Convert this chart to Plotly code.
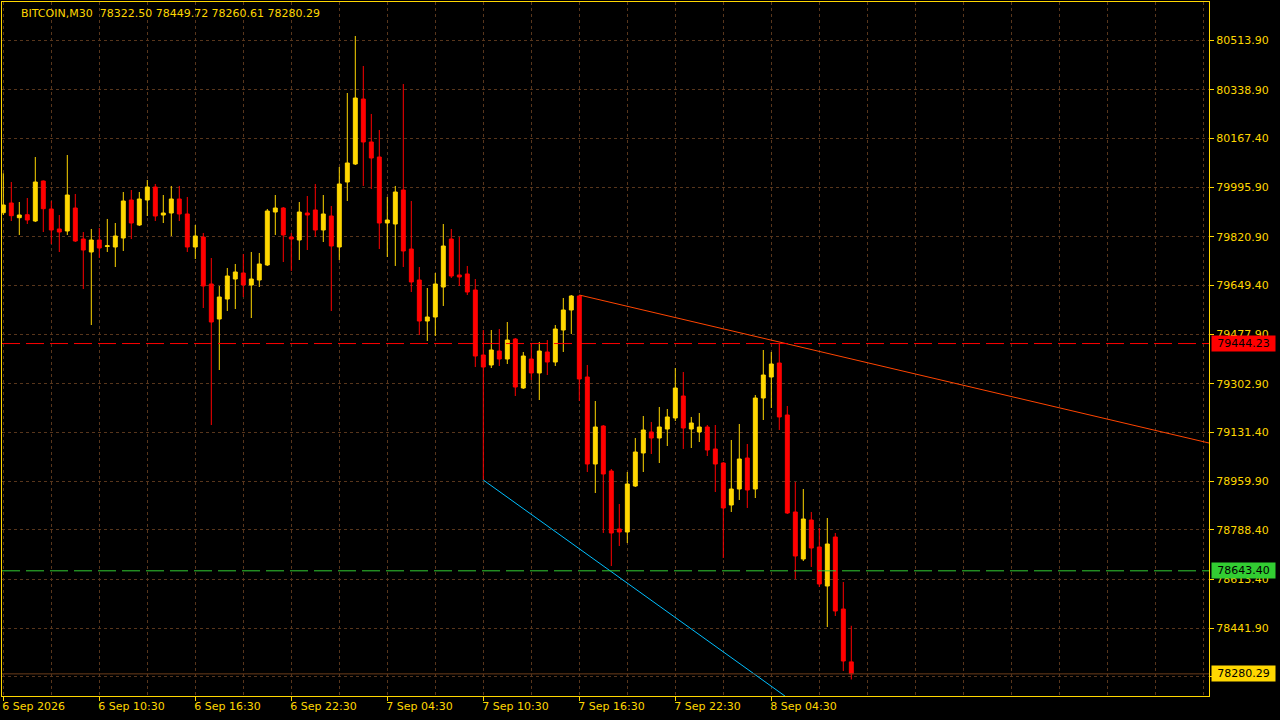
import plotly.graph_objects as go

# ---------------- data ----------------
symbol_label = "BITCOIN,M30"
last_ohlc = [78322.50, 78449.72, 78260.61, 78280.29]

bar_index = list(range(107))

opens = [79905.3, 79939.5, 79887.7, 79898.3, 79876.1, 80017.0, 79918.4, 79848.0, 79840.9, 79921.9,
         79812.6, 79766.9, 79809.1, 79786.2, 79784.5, 79816.2, 79950.1, 79862.0, 79950.1, 79995.9,
         79897.2, 79904.3, 79953.6, 79900.8, 79784.5, 79819.7, 79654.1, 79530.7, 79601.2, 79671.7,
         79692.9, 79650.6, 79668.2, 79721.1, 79907.8, 79921.9, 79819.7, 79809.1, 79904.3, 79914.9,
         79844.4, 79893.7, 79784.5, 80013.5, 80077.0, 80306.0, 80154.5, 80101.6, 79869.0, 79865.5,
         79985.3, 79777.4, 79668.2, 79523.7, 79537.8, 79643.5, 79812.6, 79685.8, 79689.4, 79633.0,
         79403.9, 79368.7, 79418.0, 79389.8, 79460.2, 79287.6, 79389.8, 79340.5, 79414.5, 79379.2,
         79492.0, 79562.5, 79611.8, 79326.4, 79019.8, 79153.7, 78995.1, 78790.8, 78780.2, 78942.3,
         79058.6, 79132.6, 79111.4, 79143.1, 79182.0, 79259.4, 79143.1, 79132.6, 79150.2, 79072.7,
         79023.3, 78875.3, 78931.7, 79040.9, 78931.7, 79252.4, 79326.4, 79375.7, 79192.5, 78850.7,
         78685.1, 78822.5, 78727.3, 78589.9, 78762.6, 78508.8, 78322.50]

highs = [80044.2, 80013.5, 79943.0, 79957.1, 80101.6, 80019.0, 79946.6, 79897.2, 80108.7, 79971.2,
         79837.3, 79848.0, 79851.5, 79883.2, 79869.0, 79978.3, 79985.3, 79978.3, 80020.6, 80006.5,
         79967.7, 79999.5, 79999.5, 79960.7, 79862.0, 79833.8, 79745.7, 79647.0, 79710.5, 79724.6,
         79759.8, 79766.9, 79763.3, 79918.4, 79967.7, 79925.4, 79833.8, 79943.0, 79964.2, 80006.5,
         79967.7, 79928.9, 80066.4, 80327.1, 80528.0, 80422.3, 80253.2, 80196.8, 79960.7, 79999.5,
         80358.8, 79946.6, 79714.0, 79640.0, 79692.9, 79865.5, 79848.0, 79819.7, 79717.6, 79671.7,
         79492.0, 79492.0, 79495.5, 79520.2, 79463.8, 79414.5, 79442.7, 79449.7, 79456.7, 79509.6,
         79604.8, 79615.3, 79615.3, 79368.7, 79241.8, 79157.2, 79002.2, 78878.9, 78991.6, 79111.4,
         79189.0, 79167.8, 79220.7, 79213.6, 79358.1, 79344.0, 79185.5, 79199.5, 79157.2, 79157.2,
         79026.8, 79104.4, 79160.8, 79090.3, 79262.9, 79421.5, 79414.5, 79444.2, 79224.2, 78956.4,
         78931.7, 78850.7, 78794.3, 78829.5, 78776.7, 78604.0, 78449.72]

lows = [79897.2, 79876.1, 79826.8, 79865.5, 79872.5, 79837.3, 79795.0, 79766.9, 79826.8, 79802.1,
        79636.5, 79509.6, 79745.7, 79766.9, 79714.0, 79770.4, 79812.6, 79858.5, 79893.7, 79876.1,
        79869.0, 79823.2, 79876.1, 79766.9, 79742.2, 79569.5, 79157.2, 79351.0, 79559.0, 79566.0,
        79608.3, 79534.3, 79643.5, 79717.6, 79826.8, 79731.6, 79700.0, 79738.7, 79773.9, 79819.7,
        79802.1, 79559.0, 79738.7, 79946.6, 80073.4, 79999.5, 79988.9, 79777.4, 79749.2, 79717.6,
        79714.0, 79625.9, 79474.4, 79453.3, 79470.9, 79576.6, 79675.3, 79647.0, 79615.3, 79361.6,
        78963.4, 79358.1, 79365.2, 79372.2, 79259.4, 79284.1, 79315.8, 79245.3, 79333.4, 79365.2,
        79414.5, 79477.9, 79241.8, 78991.6, 78917.6, 78776.7, 78660.4, 78730.9, 78741.4, 78938.8,
        78991.6, 79055.1, 79023.3, 79083.2, 79171.3, 79072.7, 79076.2, 79097.3, 79048.0, 78921.1,
        78688.6, 78850.7, 78893.0, 78864.8, 78900.0, 79174.9, 79217.1, 79139.6, 78843.6, 78614.6,
        78678.0, 78656.9, 78586.4, 78445.4, 78484.2, 78290.4, 78260.61]

closes = [79932.5, 79894.8, 79897.2, 79879.6, 80013.5, 79919.4, 79844.4, 79837.3, 79967.7, 79805.6,
          79773.9, 79809.1, 79780.9, 79788.7, 79823.2, 79946.6, 79869.0, 79953.6, 79995.9, 79893.7,
          79904.3, 79953.6, 79900.8, 79784.5, 79823.2, 79647.0, 79520.2, 79608.3, 79682.3, 79696.4,
          79650.6, 79671.7, 79724.6, 79911.3, 79921.9, 79826.8, 79812.6, 79907.8, 79897.2, 79844.4,
          79900.8, 79788.0, 80006.5, 80080.5, 80309.5, 80154.5, 80098.1, 79869.0, 79879.6, 79978.3,
          79770.4, 79661.2, 79523.7, 79537.8, 79654.1, 79788.0, 79682.3, 79678.8, 79625.9, 79400.4,
          79361.6, 79421.5, 79389.8, 79456.7, 79291.1, 79400.4, 79340.5, 79418.0, 79379.2, 79495.5,
          79562.5, 79611.8, 79319.3, 79019.8, 79150.2, 78984.6, 78776.7, 78780.2, 78949.3, 79062.1,
          79139.6, 79111.4, 79150.2, 79185.5, 79287.6, 79146.6, 79164.3, 79150.2, 79069.1, 79019.8,
          78864.8, 78931.7, 79037.4, 78928.2, 79252.4, 79333.4, 79372.2, 79185.5, 78847.1, 78695.6,
          78826.0, 78723.8, 78597.0, 78737.9, 78501.8, 78325.6, 78280.29]

price_ticks = [80513.90, 80338.90, 80167.40, 79995.90, 79820.90, 79649.40, 79477.90,
               79302.90, 79131.40, 78959.90, 78788.40, 78613.40, 78441.90, 78270.40]
price_tick_labels = ["80513.90", "80338.90", "80167.40", "79995.90", "79820.90", "79649.40", "79477.90",
                     "79302.90", "79131.40", "78959.90", "78788.40", "78613.40", "78441.90", "78270.40"]

time_tick_index = [0, 12, 24, 36, 48, 60, 72, 84, 96]
time_tick_labels = ["6 Sep 2026", "6 Sep 10:30", "6 Sep 16:30", "6 Sep 22:30", "7 Sep 04:30",
                    "7 Sep 10:30", "7 Sep 16:30", "7 Sep 22:30", "8 Sep 04:30"]

# trend lines (anchor points)
resist_x = [72, 150.71]
resist_y = [79615.3, 79093.8]
support_x = [60, 97.7]
support_y = [78963.4, 78202.3]

level_red = 79444.23
level_green = 78643.40
last_price = 78280.29

x_range = [-0.1625, 150.71]
y_range = [78202.3, 80647.8]

# ---------------- styling ----------------
GOLD = "#FFD700"
RED = "#FF0000"
GRID = "rgb(88,54,28)"
FONT = "DejaVu Sans"

fig = go.Figure()

fig.add_trace(go.Candlestick(
    x=bar_index, open=opens, high=highs, low=lows, close=closes,
    increasing=dict(line=dict(color=GOLD, width=1), fillcolor=GOLD),
    decreasing=dict(line=dict(color=RED, width=1), fillcolor=RED),
    whiskerwidth=0, showlegend=False, hoverinfo="skip",
))

fig.add_trace(go.Scatter(x=resist_x, y=resist_y, mode="lines",
                         line=dict(color="#FF4500", width=1), showlegend=False, hoverinfo="skip"))
fig.add_trace(go.Scatter(x=support_x, y=support_y, mode="lines",
                         line=dict(color="#00BFFF", width=1), showlegend=False, hoverinfo="skip"))

# horizontal price levels
fig.add_shape(type="line", xref="paper", x0=0, x1=1, yref="y", y0=last_price, y1=last_price,
              line=dict(color="rgb(105,60,25)", width=1))
fig.add_shape(type="line", xref="paper", x0=0, x1=1, yref="y", y0=level_red, y1=level_red,
              line=dict(color=RED, width=1, dash="18px,6px"))
fig.add_shape(type="line", xref="paper", x0=0, x1=1, yref="y", y0=level_green, y1=level_green,
              line=dict(color="#32CD32", width=1, dash="18px,6px"))

# price boxes on the right axis
for val, bg in [(level_red, RED), (level_green, "#32CD32"), (last_price, GOLD)]:
    fig.add_annotation(xref="paper", x=1, xanchor="left", xshift=2,
                       yref="y", y=val, yanchor="middle",
                       text=f"{val:.2f}", showarrow=False,
                       font=dict(family=FONT, size=11, color="#000000"),
                       bgcolor=bg, width=61, height=13, borderpad=1, align="center")

# header
fig.add_annotation(xref="paper", x=0, xanchor="left", xshift=17,
                   yref="paper", y=1, yanchor="top", yshift=-3,
                   text=f"{symbol_label}  " + " ".join(f"{v:.2f}" for v in last_ohlc),
                   showarrow=False, font=dict(family=FONT, size=11, color=GOLD))

fig.update_layout(
    width=1280, height=720,
    margin=dict(l=2, r=71, t=2, b=24),
    paper_bgcolor="#000000", plot_bgcolor="#000000",
    font=dict(family=FONT, size=11, color=GOLD),
    showlegend=False,
    xaxis=dict(
        range=x_range, rangeslider=dict(visible=False),
        tickmode="array", tickvals=time_tick_index, ticktext=time_tick_labels,
        ticks="outside", ticklen=4, tickcolor=GOLD, tickwidth=1,
        ticklabelposition="outside right", ticklabelshift=-2,
        tickfont=dict(family=FONT, size=11, color=GOLD),
        showgrid=True, gridcolor=GRID, gridwidth=1, griddash="3px,3px",
        minor=dict(tickmode="linear", tick0=0, dtick=6, showgrid=True,
                   gridcolor=GRID, gridwidth=1, griddash="3px,3px", ticks=""),
        showline=True, linecolor=GOLD, linewidth=1, mirror=True,
        zeroline=False, fixedrange=True,
    ),
    yaxis=dict(
        range=y_range, side="right",
        tickmode="array", tickvals=price_ticks, ticktext=price_tick_labels,
        ticks="outside", ticklen=4, tickcolor=GOLD, tickwidth=1,
        tickfont=dict(family=FONT, size=11, color=GOLD),
        showgrid=True, gridcolor=GRID, gridwidth=1, griddash="3px,3px",
        showline=True, linecolor=GOLD, linewidth=1, mirror=True,
        zeroline=False, fixedrange=True,
    ),
    boxgap=0.3, boxgroupgap=0.3,
)

fig.write_html("out.html", config={"displayModeBar": False},
               post_script="document.body.style.margin='0px';")
